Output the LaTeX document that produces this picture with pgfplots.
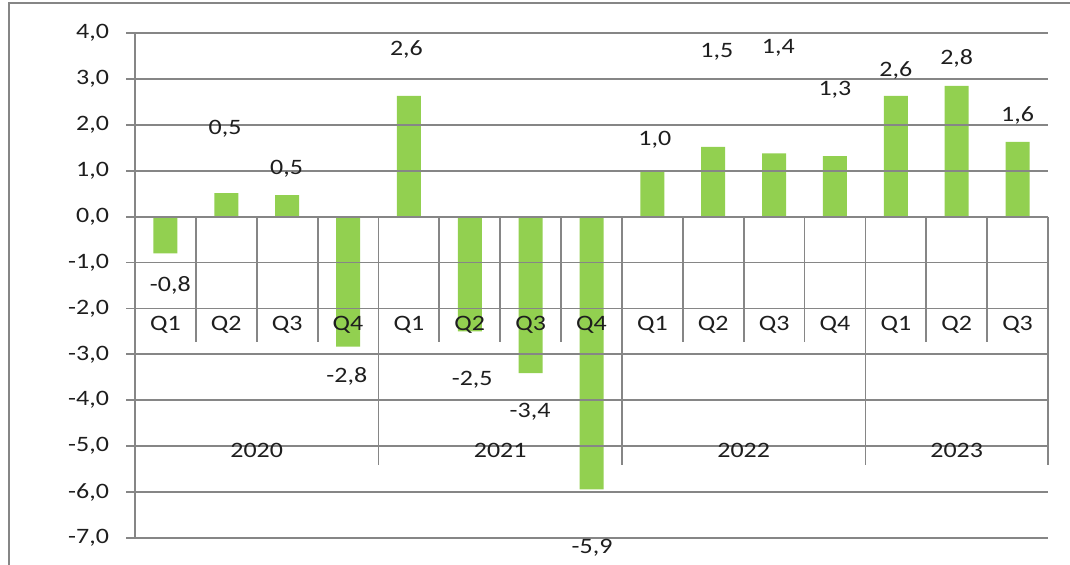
\documentclass[border=0pt]{standalone}
\usepackage{fontspec}
\setmainfont{Carlito}[FakeStretch=1.18]
\usepackage{pgfplots}
\pgfplotsset{compat=1.18}
\definecolor{barg}{HTML}{92D050}
\definecolor{gridg}{RGB}{134,134,134}
\definecolor{txt}{RGB}{30,30,30}
\pgfplotsset{
  layers/mylayers/.define layer set={
    axis background,axis grid,pre main,main,axis ticks,axis lines,axis tick labels,axis descriptions,axis foreground
  }{},
}
\begin{document}
\begin{tikzpicture}[font=\fontsize{11}{13}\selectfont]
\draw[gridg, line width=1pt] (-63pt,-20pt) -- (-63pt,267.5pt) -- (480pt,267.5pt);
\begin{axis}[
  set layers=mylayers,
  scale only axis, width=456.5pt, height=252.5pt,
  at={(0,0)}, anchor=south west,
  xmin=-0.5, xmax=14.5, ymin=-7, ymax=4,
  axis y line*=left, axis x line*=middle,
  ytick={-7,...,4},
  ymajorgrids, grid style={gridg, line width=0.9pt},
  axis line style={gridg, line width=0.9pt},
  tick style={gridg, line width=0.9pt},
  tick align=outside, major tick length=4.5pt,
  yticklabel style={txt, xshift=-5pt, /pgf/number format/.cd, fixed, fixed zerofill, precision=1, use comma, assume math mode=true},
  xtick={0,...,14},
  xticklabels={Q1,Q2,Q3,Q4,Q1,Q2,Q3,Q4,Q1,Q2,Q3,Q4,Q1,Q2,Q3},
  x tick style={draw=none},
  xticklabel style={txt, anchor=center, yshift=-49.7pt},
  extra x ticks={1.5,5.5,9.5,13},
  extra x tick labels={2020,2021,2022,2023},
  extra x tick style={major tick length=0pt, xticklabel style={yshift=-67pt}},
  clip=false,
]
\addplot[ybar, bar width=12pt, fill=barg, draw=none, on layer=pre main] coordinates {
  (0,-0.8) (1,0.51) (2,0.47) (3,-2.83) (4,2.63) (5,-2.5) (6,-3.41) (7,-5.94)
  (8,0.99) (9,1.52) (10,1.38) (11,1.32) (12,2.63) (13,2.85) (14,1.63)};
\addplot[draw=none, mark=none, nodes near coords, point meta=explicit symbolic,
  nodes near coords style={anchor=center, txt, inner sep=0pt}] table[meta=lab] {
x y lab
0.08 -1.49 -0,8
0.98 1.92 0,5
1.99 1.04 0,5
2.98 -3.49 -2,8
3.96 3.64 2,6
5.04 -3.56 -2,5
5.99 -4.25 -3,4
7.01 -7.22 -5,9
8.04 1.67 1,0
9.06 3.59 1,5
10.07 3.67 1,4
11.0 2.76 1,3
12.0 3.19 2,6
13.0 3.45 2,8
14.0 2.21 1,6
};
\pgfplotsinvokeforeach{0.5,1.5,2.5,4.5,5.5,6.5,8.5,9.5,10.5,12.5,13.5}{
  \draw[gridg, line width=0.9pt] (axis cs:#1,0) -- (axis cs:#1,-2.725);
}
\pgfplotsinvokeforeach{3.5,7.5,11.5,14.5}{
  \draw[gridg, line width=0.9pt] (axis cs:#1,0) -- (axis cs:#1,-5.41);
}
\end{axis}
\pgfresetboundingbox
\path[use as bounding box] (-67.5pt,-13.5pt) rectangle (467.5pt,269pt);
\end{tikzpicture}
\end{document}
